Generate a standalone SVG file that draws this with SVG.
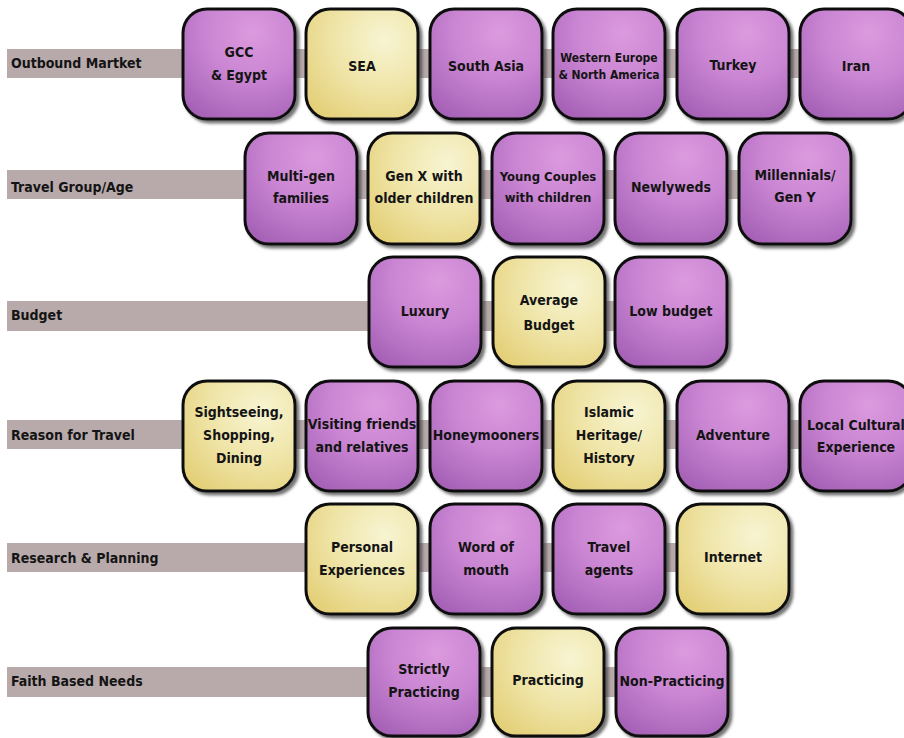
<svg xmlns="http://www.w3.org/2000/svg" width="904" height="738" viewBox="0 0 904 738">
<defs>
<radialGradient id="gp" cx="0.62" cy="0.22" r="0.95">
<stop offset="0" stop-color="#dc9ade"/>
<stop offset="0.45" stop-color="#c985d2"/>
<stop offset="1" stop-color="#a05cb2"/>
</radialGradient>
<radialGradient id="gy" cx="0.7" cy="0.28" r="0.95">
<stop offset="0" stop-color="#f7f4d2"/>
<stop offset="0.5" stop-color="#efe4a6"/>
<stop offset="1" stop-color="#e2cc70"/>
</radialGradient>
<filter id="sh" x="-10%" y="-10%" width="130%" height="130%">
<feGaussianBlur in="SourceAlpha" stdDeviation="1.6"/>
<feOffset dx="3" dy="3" result="b"/>
<feFlood flood-color="#444" flood-opacity="0.75"/>
<feComposite in2="b" operator="in"/>
<feMerge><feMergeNode/><feMergeNode in="SourceGraphic"/></feMerge>
</filter>
</defs>
<style>
text{font-family:"DejaVu Sans Condensed","DejaVu Sans",sans-serif;font-stretch:condensed;font-weight:bold;font-size:14px;fill:#141414}
.c{text-anchor:middle}
.sm{font-size:12px}
.md{font-size:13px}
.bar{fill:#b8aaab}
.p{fill:url(#gp);stroke:#111;stroke-width:3;filter:url(#sh)}
.y{fill:url(#gy);stroke:#111;stroke-width:3;filter:url(#sh)}
</style>
<rect width="904" height="738" fill="#fff"/>
<g id="connectors">
<rect class="bar" x="7" y="49" width="850" height="29"/>
<rect class="bar" x="7" y="170" width="790" height="29"/>
<rect class="bar" x="7" y="301" width="665" height="30"/>
<rect class="bar" x="7" y="420" width="850" height="29"/>
<rect class="bar" x="7" y="543" width="727" height="29"/>
<rect class="bar" x="7" y="667" width="665" height="30"/>
</g>
<g id="labels">
<text x="11" y="68">Outbound Martket</text>
<text x="11" y="192">Travel Group/Age</text>
<text x="11" y="320">Budget</text>
<text x="11" y="440">Reason for Travel</text>
<text x="11" y="563">Research &amp; Planning</text>
<text x="11" y="686">Faith Based Needs</text>
</g>
<g id="n-gcc"><rect class="p" x="183" y="9" width="112" height="110" rx="24"/><text class="c" x="239" y="57">GCC</text><text class="c" x="239" y="80">&amp; Egypt</text></g>
<g id="n-sea"><rect class="y" x="306" y="9" width="112" height="110" rx="24"/><text class="c" x="362" y="71">SEA</text></g>
<g id="n-southasia"><rect class="p" x="430" y="9" width="112" height="110" rx="24"/><text class="c" x="486" y="71">South Asia</text></g>
<g id="n-weurope"><rect class="p" x="553" y="9" width="112" height="110" rx="24"/><text class="c sm" x="609" y="62">Western Europe</text><text class="c sm" x="609" y="79">&amp; North America</text></g>
<g id="n-turkey"><rect class="p" x="677" y="9" width="112" height="110" rx="24"/><text class="c" x="733" y="70">Turkey</text></g>
<g id="n-iran"><rect class="p" x="800" y="9" width="112" height="110" rx="24"/><text class="c" x="856" y="71">Iran</text></g>

<g id="n-multigen"><rect class="p" x="245" y="133" width="112" height="111" rx="24"/><text class="c" x="301" y="181">Multi-gen</text><text class="c" x="301" y="203">families</text></g>
<g id="n-genx"><rect class="y" x="368" y="133" width="112" height="111" rx="24"/><text class="c" x="424" y="181">Gen X with</text><text class="c" x="424" y="203">older children</text></g>
<g id="n-young"><rect class="p" x="492" y="133" width="112" height="111" rx="24"/><text class="c md" x="548" y="181">Young Couples</text><text class="c md" x="548" y="202">with children</text></g>
<g id="n-newlyweds"><rect class="p" x="615" y="133" width="112" height="111" rx="24"/><text class="c" x="671" y="192">Newlyweds</text></g>
<g id="n-millennials"><rect class="p" x="739" y="133" width="112" height="111" rx="24"/><text class="c" x="795" y="180">Millennials/</text><text class="c" x="795" y="202">Gen Y</text></g>

<g id="n-luxury"><rect class="p" x="369" y="257" width="112" height="110" rx="24"/><text class="c" x="425" y="316">Luxury</text></g>
<g id="n-average"><rect class="y" x="493" y="257" width="112" height="110" rx="24"/><text class="c" x="549" y="305">Average</text><text class="c" x="549" y="330">Budget</text></g>
<g id="n-low"><rect class="p" x="615" y="257" width="112" height="110" rx="24"/><text class="c" x="671" y="316">Low budget</text></g>

<g id="n-sightseeing"><rect class="y" x="183" y="381" width="112" height="110" rx="24"/><text class="c" x="239" y="417">Sightseeing,</text><text class="c" x="239" y="440">Shopping,</text><text class="c" x="239" y="463">Dining</text></g>
<g id="n-visiting"><rect class="p" x="306" y="381" width="112" height="110" rx="24"/><text class="c" x="362" y="429">Visiting friends</text><text class="c" x="362" y="452">and relatives</text></g>
<g id="n-honeymoon"><rect class="p" x="430" y="381" width="112" height="110" rx="24"/><text class="c" x="486" y="440">Honeymooners</text></g>
<g id="n-islamic"><rect class="y" x="553" y="381" width="112" height="110" rx="24"/><text class="c" x="609" y="417">Islamic</text><text class="c" x="609" y="440">Heritage/</text><text class="c" x="609" y="463">History</text></g>
<g id="n-adventure"><rect class="p" x="677" y="381" width="112" height="110" rx="24"/><text class="c" x="733" y="440">Adventure</text></g>
<g id="n-local"><rect class="p" x="800" y="381" width="112" height="110" rx="24"/><text class="c" x="856" y="430">Local Cultural</text><text class="c" x="856" y="452">Experience</text></g>

<g id="n-personal"><rect class="y" x="306" y="504" width="112" height="110" rx="24"/><text class="c" x="362" y="552">Personal</text><text class="c" x="362" y="575">Experiences</text></g>
<g id="n-word"><rect class="p" x="430" y="504" width="112" height="110" rx="24"/><text class="c" x="486" y="552">Word of</text><text class="c" x="486" y="575">mouth</text></g>
<g id="n-agents"><rect class="p" x="553" y="504" width="112" height="110" rx="24"/><text class="c" x="609" y="552">Travel</text><text class="c" x="609" y="575">agents</text></g>
<g id="n-internet"><rect class="y" x="677" y="504" width="112" height="110" rx="24"/><text class="c" x="733" y="562">Internet</text></g>

<g id="n-strictly"><rect class="p" x="368" y="628" width="112" height="108" rx="24"/><text class="c" x="424" y="674">Strictly</text><text class="c" x="424" y="697">Practicing</text></g>
<g id="n-practicing"><rect class="y" x="492" y="628" width="112" height="108" rx="24"/><text class="c" x="548" y="685">Practicing</text></g>
<g id="n-nonpracticing"><rect class="p" x="616" y="628" width="112" height="108" rx="24"/><text class="c" x="672" y="686">Non-Practicing</text></g>
</svg>
